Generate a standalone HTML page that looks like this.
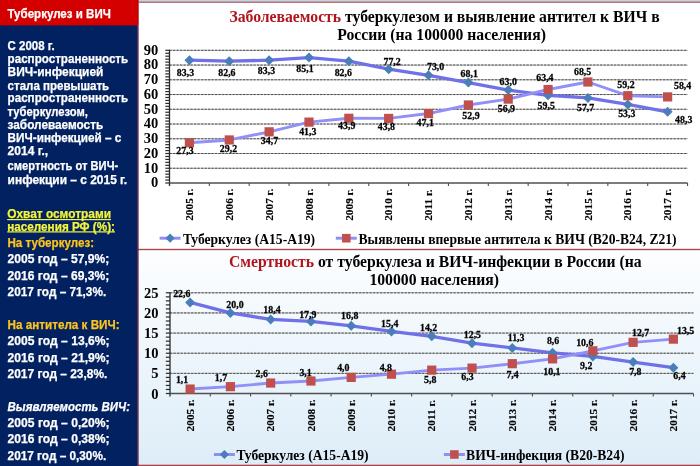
<!DOCTYPE html>
<html><head><meta charset="utf-8"><style>
html,body{margin:0;padding:0;background:#fff;}
body{width:700px;height:466px;overflow:hidden;position:relative;}
svg{position:absolute;left:0;top:0;}
.l{font-family:"Liberation Sans",sans-serif;font-weight:bold;fill:#fff;font-size:12px;stroke:#fff;stroke-width:0.25px;}
.m{font-size:13px;}
.s{font-family:"Liberation Serif",serif;font-weight:bold;fill:#000;}
.d{font-family:"Liberation Serif",serif;font-weight:bold;fill:#000;font-size:9.5px;stroke:#000;stroke-width:0.25px;}
</style></head><body>
<svg width="700" height="466" viewBox="0 0 700 466">
<defs>
<linearGradient id="bg2" x1="0" y1="0" x2="0" y2="1">
<stop offset="0" stop-color="#fdfeff"/>
<stop offset="1" stop-color="#ddedf8"/>
</linearGradient>
</defs>

<rect x="138" y="0" width="562" height="250" fill="#ffffff"/>
<rect x="138" y="250" width="562" height="216" fill="url(#bg2)"/>
<rect x="138.6" y="0" width="562" height="1.4" fill="#b4d8f2"/>
<rect x="138.6" y="1.4" width="562" height="1.5" fill="#b86464"/>
<rect x="138" y="248.8" width="562" height="1.4" fill="#b44646"/>
<rect x="138" y="464.7" width="562" height="1.3" fill="#b04048"/>
<rect x="0" y="0" width="137.6" height="466" fill="#022160"/>
<rect x="0" y="0" width="138.2" height="25.4" fill="#d40000"/>
<rect x="137.6" y="0" width="1.0" height="25.4" fill="#a00010"/>
<rect x="137.2" y="25.4" width="1.4" height="441" fill="#5e1c3c"/>
<text class="l" x="7.5" y="18.3" textLength="103.3" lengthAdjust="spacingAndGlyphs" style="font-size:12.6px">Туберкулез и ВИЧ</text>
<text class="l" x="7.6" y="49.7" textLength="47.0" lengthAdjust="spacingAndGlyphs">С 2008 г.</text>
<text class="l" x="7.6" y="63.0" textLength="120.6" lengthAdjust="spacingAndGlyphs">распространенность</text>
<text class="l" x="7.6" y="76.4" textLength="95.8" lengthAdjust="spacingAndGlyphs">ВИЧ-инфекцией</text>
<text class="l" x="7.6" y="89.6" textLength="101.6" lengthAdjust="spacingAndGlyphs">стала превышать</text>
<text class="l" x="7.6" y="102.4" textLength="120.6" lengthAdjust="spacingAndGlyphs">распространенность</text>
<text class="l" x="7.6" y="115.6" textLength="80.4" lengthAdjust="spacingAndGlyphs">туберкулезом,</text>
<text class="l" x="7.6" y="129.0" textLength="95.6" lengthAdjust="spacingAndGlyphs">заболеваемость</text>
<text class="l" x="7.6" y="142.2" textLength="113.8" lengthAdjust="spacingAndGlyphs">ВИЧ-инфекцией – с</text>
<text class="l" x="7.6" y="155.2" textLength="40.6" lengthAdjust="spacingAndGlyphs">2014 г.,</text>
<text class="l" x="7.6" y="170.4" textLength="110.6" lengthAdjust="spacingAndGlyphs">смертность от ВИЧ-</text>
<text class="l" x="7.6" y="184.0" textLength="119.6" lengthAdjust="spacingAndGlyphs">инфекции – с 2015 г.</text>
<text class="l m" x="7.2" y="218.3" textLength="103.8" lengthAdjust="spacingAndGlyphs" style="fill:#f4f43a;stroke:#f4f43a">Охват осмотрами</text>
<text class="l m" x="7.2" y="230.6" textLength="107.8" lengthAdjust="spacingAndGlyphs" style="fill:#f4f43a;stroke:#f4f43a">населения РФ (%):</text>
<rect x="7.2" y="219.0" width="103.8" height="1.2" fill="#f4f43a"/>
<rect x="7.2" y="231.3" width="107.8" height="1.2" fill="#f4f43a"/>
<text class="l m" x="7.4" y="246.9" textLength="86.8" lengthAdjust="spacingAndGlyphs" style="fill:#fcc41e;stroke:#fcc41e">На туберкулез:</text>
<text class="l m" x="7.6" y="263.0" textLength="101.6" lengthAdjust="spacingAndGlyphs">2005 год – 57,9%;</text>
<text class="l m" x="7.6" y="279.9" textLength="101.6" lengthAdjust="spacingAndGlyphs">2016 год – 69,3%;</text>
<text class="l m" x="7.6" y="296.1" textLength="98.6" lengthAdjust="spacingAndGlyphs">2017 год – 71,3%.</text>
<text class="l m" x="7.6" y="329.0" textLength="112.0" lengthAdjust="spacingAndGlyphs" style="fill:#fcc41e;stroke:#fcc41e">На антитела к ВИЧ:</text>
<text class="l m" x="7.6" y="345.0" textLength="102.0" lengthAdjust="spacingAndGlyphs">2005 год – 13,6%;</text>
<text class="l m" x="7.6" y="361.5" textLength="102.0" lengthAdjust="spacingAndGlyphs">2016 год – 21,9%;</text>
<text class="l m" x="7.6" y="377.6" textLength="99.8" lengthAdjust="spacingAndGlyphs">2017 год – 23,8%.</text>
<text class="l m" x="7.6" y="411.0" textLength="122.4" lengthAdjust="spacingAndGlyphs" style="font-style:italic">Выявляемость ВИЧ:</text>
<text class="l m" x="7.6" y="427.0" textLength="102.0" lengthAdjust="spacingAndGlyphs">2005 год – 0,20%;</text>
<text class="l m" x="7.6" y="443.4" textLength="102.0" lengthAdjust="spacingAndGlyphs">2016 год – 0,38%;</text>
<text class="l m" x="7.6" y="459.6" textLength="98.6" lengthAdjust="spacingAndGlyphs">2017 год – 0,30%.</text>
<line x1="169.5" y1="168.26" x2="687.6" y2="168.26" stroke="#b2b2b2" stroke-width="1"/>
<line x1="169.5" y1="168.26" x2="687.6" y2="168.26" stroke="#4e4e4e" stroke-width="1" stroke-dasharray="2.3 1.2"/>
<line x1="169.5" y1="153.51" x2="687.6" y2="153.51" stroke="#b2b2b2" stroke-width="1"/>
<line x1="169.5" y1="153.51" x2="687.6" y2="153.51" stroke="#4e4e4e" stroke-width="1" stroke-dasharray="2.3 1.2"/>
<line x1="169.5" y1="138.77" x2="687.6" y2="138.77" stroke="#b2b2b2" stroke-width="1"/>
<line x1="169.5" y1="138.77" x2="687.6" y2="138.77" stroke="#4e4e4e" stroke-width="1" stroke-dasharray="2.3 1.2"/>
<line x1="169.5" y1="124.02" x2="687.6" y2="124.02" stroke="#b2b2b2" stroke-width="1"/>
<line x1="169.5" y1="124.02" x2="687.6" y2="124.02" stroke="#4e4e4e" stroke-width="1" stroke-dasharray="2.3 1.2"/>
<line x1="169.5" y1="109.28" x2="687.6" y2="109.28" stroke="#b2b2b2" stroke-width="1"/>
<line x1="169.5" y1="109.28" x2="687.6" y2="109.28" stroke="#4e4e4e" stroke-width="1" stroke-dasharray="2.3 1.2"/>
<line x1="169.5" y1="94.54" x2="687.6" y2="94.54" stroke="#b2b2b2" stroke-width="1"/>
<line x1="169.5" y1="94.54" x2="687.6" y2="94.54" stroke="#4e4e4e" stroke-width="1" stroke-dasharray="2.3 1.2"/>
<line x1="169.5" y1="79.79" x2="687.6" y2="79.79" stroke="#b2b2b2" stroke-width="1"/>
<line x1="169.5" y1="79.79" x2="687.6" y2="79.79" stroke="#4e4e4e" stroke-width="1" stroke-dasharray="2.3 1.2"/>
<line x1="169.5" y1="65.05" x2="687.6" y2="65.05" stroke="#b2b2b2" stroke-width="1"/>
<line x1="169.5" y1="65.05" x2="687.6" y2="65.05" stroke="#4e4e4e" stroke-width="1" stroke-dasharray="2.3 1.2"/>
<line x1="169.5" y1="50.30" x2="687.6" y2="50.30" stroke="#b2b2b2" stroke-width="1"/>
<line x1="169.5" y1="50.30" x2="687.6" y2="50.30" stroke="#4e4e4e" stroke-width="1" stroke-dasharray="2.3 1.2"/>
<line x1="169.50" y1="49.80" x2="169.50" y2="186.00" stroke="#2a2a2a" stroke-width="1.3"/>
<line x1="165.30" y1="183.00" x2="169.50" y2="183.00" stroke="#2a2a2a" stroke-width="1.2"/>
<line x1="165.30" y1="180.05" x2="169.50" y2="180.05" stroke="#2a2a2a" stroke-width="1.2"/>
<line x1="165.30" y1="177.10" x2="169.50" y2="177.10" stroke="#2a2a2a" stroke-width="1.2"/>
<line x1="165.30" y1="174.15" x2="169.50" y2="174.15" stroke="#2a2a2a" stroke-width="1.2"/>
<line x1="165.30" y1="171.20" x2="169.50" y2="171.20" stroke="#2a2a2a" stroke-width="1.2"/>
<line x1="165.30" y1="168.26" x2="169.50" y2="168.26" stroke="#2a2a2a" stroke-width="1.2"/>
<line x1="165.30" y1="165.31" x2="169.50" y2="165.31" stroke="#2a2a2a" stroke-width="1.2"/>
<line x1="165.30" y1="162.36" x2="169.50" y2="162.36" stroke="#2a2a2a" stroke-width="1.2"/>
<line x1="165.30" y1="159.41" x2="169.50" y2="159.41" stroke="#2a2a2a" stroke-width="1.2"/>
<line x1="165.30" y1="156.46" x2="169.50" y2="156.46" stroke="#2a2a2a" stroke-width="1.2"/>
<line x1="165.30" y1="153.51" x2="169.50" y2="153.51" stroke="#2a2a2a" stroke-width="1.2"/>
<line x1="165.30" y1="150.56" x2="169.50" y2="150.56" stroke="#2a2a2a" stroke-width="1.2"/>
<line x1="165.30" y1="147.61" x2="169.50" y2="147.61" stroke="#2a2a2a" stroke-width="1.2"/>
<line x1="165.30" y1="144.67" x2="169.50" y2="144.67" stroke="#2a2a2a" stroke-width="1.2"/>
<line x1="165.30" y1="141.72" x2="169.50" y2="141.72" stroke="#2a2a2a" stroke-width="1.2"/>
<line x1="165.30" y1="138.77" x2="169.50" y2="138.77" stroke="#2a2a2a" stroke-width="1.2"/>
<line x1="165.30" y1="135.82" x2="169.50" y2="135.82" stroke="#2a2a2a" stroke-width="1.2"/>
<line x1="165.30" y1="132.87" x2="169.50" y2="132.87" stroke="#2a2a2a" stroke-width="1.2"/>
<line x1="165.30" y1="129.92" x2="169.50" y2="129.92" stroke="#2a2a2a" stroke-width="1.2"/>
<line x1="165.30" y1="126.97" x2="169.50" y2="126.97" stroke="#2a2a2a" stroke-width="1.2"/>
<line x1="165.30" y1="124.02" x2="169.50" y2="124.02" stroke="#2a2a2a" stroke-width="1.2"/>
<line x1="165.30" y1="121.08" x2="169.50" y2="121.08" stroke="#2a2a2a" stroke-width="1.2"/>
<line x1="165.30" y1="118.13" x2="169.50" y2="118.13" stroke="#2a2a2a" stroke-width="1.2"/>
<line x1="165.30" y1="115.18" x2="169.50" y2="115.18" stroke="#2a2a2a" stroke-width="1.2"/>
<line x1="165.30" y1="112.23" x2="169.50" y2="112.23" stroke="#2a2a2a" stroke-width="1.2"/>
<line x1="165.30" y1="109.28" x2="169.50" y2="109.28" stroke="#2a2a2a" stroke-width="1.2"/>
<line x1="165.30" y1="106.33" x2="169.50" y2="106.33" stroke="#2a2a2a" stroke-width="1.2"/>
<line x1="165.30" y1="103.38" x2="169.50" y2="103.38" stroke="#2a2a2a" stroke-width="1.2"/>
<line x1="165.30" y1="100.43" x2="169.50" y2="100.43" stroke="#2a2a2a" stroke-width="1.2"/>
<line x1="165.30" y1="97.48" x2="169.50" y2="97.48" stroke="#2a2a2a" stroke-width="1.2"/>
<line x1="165.30" y1="94.54" x2="169.50" y2="94.54" stroke="#2a2a2a" stroke-width="1.2"/>
<line x1="165.30" y1="91.59" x2="169.50" y2="91.59" stroke="#2a2a2a" stroke-width="1.2"/>
<line x1="165.30" y1="88.64" x2="169.50" y2="88.64" stroke="#2a2a2a" stroke-width="1.2"/>
<line x1="165.30" y1="85.69" x2="169.50" y2="85.69" stroke="#2a2a2a" stroke-width="1.2"/>
<line x1="165.30" y1="82.74" x2="169.50" y2="82.74" stroke="#2a2a2a" stroke-width="1.2"/>
<line x1="165.30" y1="79.79" x2="169.50" y2="79.79" stroke="#2a2a2a" stroke-width="1.2"/>
<line x1="165.30" y1="76.84" x2="169.50" y2="76.84" stroke="#2a2a2a" stroke-width="1.2"/>
<line x1="165.30" y1="73.89" x2="169.50" y2="73.89" stroke="#2a2a2a" stroke-width="1.2"/>
<line x1="165.30" y1="70.95" x2="169.50" y2="70.95" stroke="#2a2a2a" stroke-width="1.2"/>
<line x1="165.30" y1="68.00" x2="169.50" y2="68.00" stroke="#2a2a2a" stroke-width="1.2"/>
<line x1="165.30" y1="65.05" x2="169.50" y2="65.05" stroke="#2a2a2a" stroke-width="1.2"/>
<line x1="165.30" y1="62.10" x2="169.50" y2="62.10" stroke="#2a2a2a" stroke-width="1.2"/>
<line x1="165.30" y1="59.15" x2="169.50" y2="59.15" stroke="#2a2a2a" stroke-width="1.2"/>
<line x1="165.30" y1="56.20" x2="169.50" y2="56.20" stroke="#2a2a2a" stroke-width="1.2"/>
<line x1="165.30" y1="53.25" x2="169.50" y2="53.25" stroke="#2a2a2a" stroke-width="1.2"/>
<line x1="165.30" y1="50.30" x2="169.50" y2="50.30" stroke="#2a2a2a" stroke-width="1.2"/>
<line x1="169.50" y1="183.00" x2="687.55" y2="183.00" stroke="#505050" stroke-width="1.3"/>
<line x1="209.35" y1="183.00" x2="209.35" y2="186.00" stroke="#505050" stroke-width="1.1"/>
<line x1="249.20" y1="183.00" x2="249.20" y2="186.00" stroke="#505050" stroke-width="1.1"/>
<line x1="289.05" y1="183.00" x2="289.05" y2="186.00" stroke="#505050" stroke-width="1.1"/>
<line x1="328.90" y1="183.00" x2="328.90" y2="186.00" stroke="#505050" stroke-width="1.1"/>
<line x1="368.75" y1="183.00" x2="368.75" y2="186.00" stroke="#505050" stroke-width="1.1"/>
<line x1="408.60" y1="183.00" x2="408.60" y2="186.00" stroke="#505050" stroke-width="1.1"/>
<line x1="448.45" y1="183.00" x2="448.45" y2="186.00" stroke="#505050" stroke-width="1.1"/>
<line x1="488.30" y1="183.00" x2="488.30" y2="186.00" stroke="#505050" stroke-width="1.1"/>
<line x1="528.15" y1="183.00" x2="528.15" y2="186.00" stroke="#505050" stroke-width="1.1"/>
<line x1="568.00" y1="183.00" x2="568.00" y2="186.00" stroke="#505050" stroke-width="1.1"/>
<line x1="607.85" y1="183.00" x2="607.85" y2="186.00" stroke="#505050" stroke-width="1.1"/>
<line x1="647.70" y1="183.00" x2="647.70" y2="186.00" stroke="#505050" stroke-width="1.1"/>
<line x1="687.55" y1="183.00" x2="687.55" y2="186.00" stroke="#505050" stroke-width="1.1"/>
<polyline points="189.43,60.18 229.28,61.21 269.12,60.18 308.98,57.53 348.83,61.21 388.68,69.18 428.53,75.37 468.38,82.59 508.23,90.11 548.08,95.27 587.92,97.93 627.78,104.41 667.62,111.79" fill="none" stroke="#7070e8" stroke-width="3.3" stroke-linejoin="round"/>
<polyline points="189.43,142.75 229.28,139.95 269.12,131.84 308.98,122.11 348.83,118.27 388.68,118.42 428.53,113.56 468.38,105.00 508.23,99.11 548.08,89.52 587.92,82.00 627.78,95.72 667.62,96.90" fill="none" stroke="#9090f8" stroke-width="2.9" stroke-linejoin="round"/>
<path d="M189.43 55.18L194.43 60.18L189.43 65.18L184.43 60.18Z" fill="#4a7ebb"/>
<path d="M229.28 56.21L234.28 61.21L229.28 66.21L224.28 61.21Z" fill="#4a7ebb"/>
<path d="M269.12 55.18L274.12 60.18L269.12 65.18L264.12 60.18Z" fill="#4a7ebb"/>
<path d="M308.98 52.53L313.98 57.53L308.98 62.53L303.98 57.53Z" fill="#4a7ebb"/>
<path d="M348.83 56.21L353.83 61.21L348.83 66.21L343.83 61.21Z" fill="#4a7ebb"/>
<path d="M388.68 64.18L393.68 69.18L388.68 74.18L383.68 69.18Z" fill="#4a7ebb"/>
<path d="M428.53 70.37L433.53 75.37L428.53 80.37L423.53 75.37Z" fill="#4a7ebb"/>
<path d="M468.38 77.59L473.38 82.59L468.38 87.59L463.38 82.59Z" fill="#4a7ebb"/>
<path d="M508.23 85.11L513.23 90.11L508.23 95.11L503.23 90.11Z" fill="#4a7ebb"/>
<path d="M548.08 90.27L553.08 95.27L548.08 100.27L543.08 95.27Z" fill="#4a7ebb"/>
<path d="M587.92 92.93L592.92 97.93L587.92 102.93L582.92 97.93Z" fill="#4a7ebb"/>
<path d="M627.78 99.41L632.78 104.41L627.78 109.41L622.78 104.41Z" fill="#4a7ebb"/>
<path d="M667.62 106.79L672.62 111.79L667.62 116.79L662.62 111.79Z" fill="#4a7ebb"/>
<rect x="184.83" y="138.15" width="9.2" height="9.2" fill="#c0504d"/>
<rect x="224.68" y="135.35" width="9.2" height="9.2" fill="#c0504d"/>
<rect x="264.52" y="127.24" width="9.2" height="9.2" fill="#c0504d"/>
<rect x="304.38" y="117.51" width="9.2" height="9.2" fill="#c0504d"/>
<rect x="344.23" y="113.67" width="9.2" height="9.2" fill="#c0504d"/>
<rect x="384.07" y="113.82" width="9.2" height="9.2" fill="#c0504d"/>
<rect x="423.93" y="108.96" width="9.2" height="9.2" fill="#c0504d"/>
<rect x="463.77" y="100.40" width="9.2" height="9.2" fill="#c0504d"/>
<rect x="503.62" y="94.51" width="9.2" height="9.2" fill="#c0504d"/>
<rect x="543.48" y="84.92" width="9.2" height="9.2" fill="#c0504d"/>
<rect x="583.32" y="77.40" width="9.2" height="9.2" fill="#c0504d"/>
<rect x="623.18" y="91.12" width="9.2" height="9.2" fill="#c0504d"/>
<rect x="663.02" y="92.30" width="9.2" height="9.2" fill="#c0504d"/>
<text class="s" x="158.2" y="187.30" text-anchor="end" style="font-size:14.5px">0</text>
<text class="s" x="158.2" y="172.56" text-anchor="end" style="font-size:14.5px">10</text>
<text class="s" x="158.2" y="157.81" text-anchor="end" style="font-size:14.5px">20</text>
<text class="s" x="158.2" y="143.07" text-anchor="end" style="font-size:14.5px">30</text>
<text class="s" x="158.2" y="128.32" text-anchor="end" style="font-size:14.5px">40</text>
<text class="s" x="158.2" y="113.58" text-anchor="end" style="font-size:14.5px">50</text>
<text class="s" x="158.2" y="98.84" text-anchor="end" style="font-size:14.5px">60</text>
<text class="s" x="158.2" y="84.09" text-anchor="end" style="font-size:14.5px">70</text>
<text class="s" x="158.2" y="69.35" text-anchor="end" style="font-size:14.5px">80</text>
<text class="s" x="158.2" y="54.60" text-anchor="end" style="font-size:14.5px">90</text>
<text class="s" transform="translate(193.12 220.80) rotate(-90)" style="font-size:11.3px;stroke:#000;stroke-width:0.15px">2005 г.</text>
<text class="s" transform="translate(232.97 220.80) rotate(-90)" style="font-size:11.3px;stroke:#000;stroke-width:0.15px">2006 г.</text>
<text class="s" transform="translate(272.82 220.80) rotate(-90)" style="font-size:11.3px;stroke:#000;stroke-width:0.15px">2007 г.</text>
<text class="s" transform="translate(312.68 220.80) rotate(-90)" style="font-size:11.3px;stroke:#000;stroke-width:0.15px">2008 г.</text>
<text class="s" transform="translate(352.53 220.80) rotate(-90)" style="font-size:11.3px;stroke:#000;stroke-width:0.15px">2009 г.</text>
<text class="s" transform="translate(392.38 220.80) rotate(-90)" style="font-size:11.3px;stroke:#000;stroke-width:0.15px">2010 г.</text>
<text class="s" transform="translate(432.23 220.80) rotate(-90)" style="font-size:11.3px;stroke:#000;stroke-width:0.15px">2011 г.</text>
<text class="s" transform="translate(472.07 220.80) rotate(-90)" style="font-size:11.3px;stroke:#000;stroke-width:0.15px">2012 г.</text>
<text class="s" transform="translate(511.93 220.80) rotate(-90)" style="font-size:11.3px;stroke:#000;stroke-width:0.15px">2013 г.</text>
<text class="s" transform="translate(551.78 220.80) rotate(-90)" style="font-size:11.3px;stroke:#000;stroke-width:0.15px">2014 г.</text>
<text class="s" transform="translate(591.62 220.80) rotate(-90)" style="font-size:11.3px;stroke:#000;stroke-width:0.15px">2015 г.</text>
<text class="s" transform="translate(631.48 220.80) rotate(-90)" style="font-size:11.3px;stroke:#000;stroke-width:0.15px">2016 г.</text>
<text class="s" transform="translate(671.33 220.80) rotate(-90)" style="font-size:11.3px;stroke:#000;stroke-width:0.15px">2017 г.</text>
<text class="d" transform="translate(185.5 76.1) scale(1.04 1)" text-anchor="middle">83,3</text>
<text class="d" transform="translate(226.9 76.1) scale(1.04 1)" text-anchor="middle">82,6</text>
<text class="d" transform="translate(266.5 73.7) scale(1.04 1)" text-anchor="middle">83,3</text>
<text class="d" transform="translate(305.0 71.9) scale(1.04 1)" text-anchor="middle">85,1</text>
<text class="d" transform="translate(343.3 75.9) scale(1.04 1)" text-anchor="middle">82,6</text>
<text class="d" transform="translate(392.1 64.7) scale(1.04 1)" text-anchor="middle">77,2</text>
<text class="d" transform="translate(435.6 70.1) scale(1.04 1)" text-anchor="middle">73,0</text>
<text class="d" transform="translate(469.2 76.9) scale(1.04 1)" text-anchor="middle">68,1</text>
<text class="d" transform="translate(508.2 84.5) scale(1.04 1)" text-anchor="middle">63,0</text>
<text class="d" transform="translate(546.2 108.9) scale(1.04 1)" text-anchor="middle">59,5</text>
<text class="d" transform="translate(585.6 111.1) scale(1.04 1)" text-anchor="middle">57,7</text>
<text class="d" transform="translate(626.8 117.4) scale(1.04 1)" text-anchor="middle">53,3</text>
<text class="d" transform="translate(683.7 123.0) scale(1.04 1)" text-anchor="middle">48,3</text>
<text class="d" transform="translate(185.0 154.3) scale(1.04 1)" text-anchor="middle">27,3</text>
<text class="d" transform="translate(228.5 151.7) scale(1.04 1)" text-anchor="middle">29,2</text>
<text class="d" transform="translate(269.5 144.3) scale(1.04 1)" text-anchor="middle">34,7</text>
<text class="d" transform="translate(307.8 134.5) scale(1.04 1)" text-anchor="middle">41,3</text>
<text class="d" transform="translate(346.7 129.4) scale(1.04 1)" text-anchor="middle">43,9</text>
<text class="d" transform="translate(386.4 129.8) scale(1.04 1)" text-anchor="middle">43,8</text>
<text class="d" transform="translate(425.2 125.7) scale(1.04 1)" text-anchor="middle">47,1</text>
<text class="d" transform="translate(471.0 119.1) scale(1.04 1)" text-anchor="middle">52,9</text>
<text class="d" transform="translate(506.4 111.7) scale(1.04 1)" text-anchor="middle">56,9</text>
<text class="d" transform="translate(544.9 80.7) scale(1.04 1)" text-anchor="middle">63,4</text>
<text class="d" transform="translate(582.6 75.2) scale(1.04 1)" text-anchor="middle">68,5</text>
<text class="d" transform="translate(626.0 87.6) scale(1.04 1)" text-anchor="middle">59,2</text>
<text class="d" transform="translate(682.6 88.7) scale(1.04 1)" text-anchor="middle">58,4</text>
<line x1="170.0" y1="373.36" x2="693.5" y2="373.36" stroke="#b2b2b2" stroke-width="1"/>
<line x1="170.0" y1="373.36" x2="693.5" y2="373.36" stroke="#4e4e4e" stroke-width="1" stroke-dasharray="2.3 1.2"/>
<line x1="170.0" y1="353.22" x2="693.5" y2="353.22" stroke="#b2b2b2" stroke-width="1"/>
<line x1="170.0" y1="353.22" x2="693.5" y2="353.22" stroke="#4e4e4e" stroke-width="1" stroke-dasharray="2.3 1.2"/>
<line x1="170.0" y1="333.08" x2="693.5" y2="333.08" stroke="#b2b2b2" stroke-width="1"/>
<line x1="170.0" y1="333.08" x2="693.5" y2="333.08" stroke="#4e4e4e" stroke-width="1" stroke-dasharray="2.3 1.2"/>
<line x1="170.0" y1="312.94" x2="693.5" y2="312.94" stroke="#b2b2b2" stroke-width="1"/>
<line x1="170.0" y1="312.94" x2="693.5" y2="312.94" stroke="#4e4e4e" stroke-width="1" stroke-dasharray="2.3 1.2"/>
<line x1="170.0" y1="292.80" x2="693.5" y2="292.80" stroke="#b2b2b2" stroke-width="1"/>
<line x1="170.0" y1="292.80" x2="693.5" y2="292.80" stroke="#4e4e4e" stroke-width="1" stroke-dasharray="2.3 1.2"/>
<line x1="170.00" y1="292.30" x2="170.00" y2="396.50" stroke="#2a2a2a" stroke-width="1.3"/>
<line x1="165.80" y1="393.50" x2="170.00" y2="393.50" stroke="#2a2a2a" stroke-width="1.2"/>
<line x1="165.80" y1="389.47" x2="170.00" y2="389.47" stroke="#2a2a2a" stroke-width="1.2"/>
<line x1="165.80" y1="385.44" x2="170.00" y2="385.44" stroke="#2a2a2a" stroke-width="1.2"/>
<line x1="165.80" y1="381.42" x2="170.00" y2="381.42" stroke="#2a2a2a" stroke-width="1.2"/>
<line x1="165.80" y1="377.39" x2="170.00" y2="377.39" stroke="#2a2a2a" stroke-width="1.2"/>
<line x1="165.80" y1="373.36" x2="170.00" y2="373.36" stroke="#2a2a2a" stroke-width="1.2"/>
<line x1="165.80" y1="369.33" x2="170.00" y2="369.33" stroke="#2a2a2a" stroke-width="1.2"/>
<line x1="165.80" y1="365.30" x2="170.00" y2="365.30" stroke="#2a2a2a" stroke-width="1.2"/>
<line x1="165.80" y1="361.28" x2="170.00" y2="361.28" stroke="#2a2a2a" stroke-width="1.2"/>
<line x1="165.80" y1="357.25" x2="170.00" y2="357.25" stroke="#2a2a2a" stroke-width="1.2"/>
<line x1="165.80" y1="353.22" x2="170.00" y2="353.22" stroke="#2a2a2a" stroke-width="1.2"/>
<line x1="165.80" y1="349.19" x2="170.00" y2="349.19" stroke="#2a2a2a" stroke-width="1.2"/>
<line x1="165.80" y1="345.16" x2="170.00" y2="345.16" stroke="#2a2a2a" stroke-width="1.2"/>
<line x1="165.80" y1="341.14" x2="170.00" y2="341.14" stroke="#2a2a2a" stroke-width="1.2"/>
<line x1="165.80" y1="337.11" x2="170.00" y2="337.11" stroke="#2a2a2a" stroke-width="1.2"/>
<line x1="165.80" y1="333.08" x2="170.00" y2="333.08" stroke="#2a2a2a" stroke-width="1.2"/>
<line x1="165.80" y1="329.05" x2="170.00" y2="329.05" stroke="#2a2a2a" stroke-width="1.2"/>
<line x1="165.80" y1="325.02" x2="170.00" y2="325.02" stroke="#2a2a2a" stroke-width="1.2"/>
<line x1="165.80" y1="321.00" x2="170.00" y2="321.00" stroke="#2a2a2a" stroke-width="1.2"/>
<line x1="165.80" y1="316.97" x2="170.00" y2="316.97" stroke="#2a2a2a" stroke-width="1.2"/>
<line x1="165.80" y1="312.94" x2="170.00" y2="312.94" stroke="#2a2a2a" stroke-width="1.2"/>
<line x1="165.80" y1="308.91" x2="170.00" y2="308.91" stroke="#2a2a2a" stroke-width="1.2"/>
<line x1="165.80" y1="304.88" x2="170.00" y2="304.88" stroke="#2a2a2a" stroke-width="1.2"/>
<line x1="165.80" y1="300.86" x2="170.00" y2="300.86" stroke="#2a2a2a" stroke-width="1.2"/>
<line x1="165.80" y1="296.83" x2="170.00" y2="296.83" stroke="#2a2a2a" stroke-width="1.2"/>
<line x1="165.80" y1="292.80" x2="170.00" y2="292.80" stroke="#2a2a2a" stroke-width="1.2"/>
<line x1="170.00" y1="393.50" x2="693.51" y2="393.50" stroke="#505050" stroke-width="1.3"/>
<line x1="210.27" y1="393.50" x2="210.27" y2="396.50" stroke="#505050" stroke-width="1.1"/>
<line x1="250.54" y1="393.50" x2="250.54" y2="396.50" stroke="#505050" stroke-width="1.1"/>
<line x1="290.81" y1="393.50" x2="290.81" y2="396.50" stroke="#505050" stroke-width="1.1"/>
<line x1="331.08" y1="393.50" x2="331.08" y2="396.50" stroke="#505050" stroke-width="1.1"/>
<line x1="371.35" y1="393.50" x2="371.35" y2="396.50" stroke="#505050" stroke-width="1.1"/>
<line x1="411.62" y1="393.50" x2="411.62" y2="396.50" stroke="#505050" stroke-width="1.1"/>
<line x1="451.89" y1="393.50" x2="451.89" y2="396.50" stroke="#505050" stroke-width="1.1"/>
<line x1="492.16" y1="393.50" x2="492.16" y2="396.50" stroke="#505050" stroke-width="1.1"/>
<line x1="532.43" y1="393.50" x2="532.43" y2="396.50" stroke="#505050" stroke-width="1.1"/>
<line x1="572.70" y1="393.50" x2="572.70" y2="396.50" stroke="#505050" stroke-width="1.1"/>
<line x1="612.97" y1="393.50" x2="612.97" y2="396.50" stroke="#505050" stroke-width="1.1"/>
<line x1="653.24" y1="393.50" x2="653.24" y2="396.50" stroke="#505050" stroke-width="1.1"/>
<line x1="693.51" y1="393.50" x2="693.51" y2="396.50" stroke="#505050" stroke-width="1.1"/>
<polyline points="190.13,302.47 230.41,312.94 270.68,319.38 310.95,321.40 351.22,325.83 391.49,331.47 431.75,336.30 472.03,343.15 512.30,347.98 552.57,352.82 592.84,356.44 633.11,362.08 673.38,367.72" fill="none" stroke="#7070e8" stroke-width="3.3" stroke-linejoin="round"/>
<polyline points="190.13,389.07 230.41,386.65 270.68,383.03 310.95,381.01 351.22,377.39 391.49,374.17 431.75,370.14 472.03,368.12 512.30,363.69 552.57,358.86 592.84,350.80 633.11,342.34 673.38,339.12" fill="none" stroke="#9090f8" stroke-width="2.9" stroke-linejoin="round"/>
<path d="M190.13 297.47L195.13 302.47L190.13 307.47L185.13 302.47Z" fill="#4a7ebb"/>
<path d="M230.41 307.94L235.41 312.94L230.41 317.94L225.41 312.94Z" fill="#4a7ebb"/>
<path d="M270.68 314.38L275.68 319.38L270.68 324.38L265.68 319.38Z" fill="#4a7ebb"/>
<path d="M310.95 316.40L315.95 321.40L310.95 326.40L305.95 321.40Z" fill="#4a7ebb"/>
<path d="M351.22 320.83L356.22 325.83L351.22 330.83L346.22 325.83Z" fill="#4a7ebb"/>
<path d="M391.49 326.47L396.49 331.47L391.49 336.47L386.49 331.47Z" fill="#4a7ebb"/>
<path d="M431.75 331.30L436.75 336.30L431.75 341.30L426.75 336.30Z" fill="#4a7ebb"/>
<path d="M472.03 338.15L477.03 343.15L472.03 348.15L467.03 343.15Z" fill="#4a7ebb"/>
<path d="M512.30 342.98L517.30 347.98L512.30 352.98L507.30 347.98Z" fill="#4a7ebb"/>
<path d="M552.57 347.82L557.57 352.82L552.57 357.82L547.57 352.82Z" fill="#4a7ebb"/>
<path d="M592.84 351.44L597.84 356.44L592.84 361.44L587.84 356.44Z" fill="#4a7ebb"/>
<path d="M633.11 357.08L638.11 362.08L633.11 367.08L628.11 362.08Z" fill="#4a7ebb"/>
<path d="M673.38 362.72L678.38 367.72L673.38 372.72L668.38 367.72Z" fill="#4a7ebb"/>
<rect x="185.53" y="384.47" width="9.2" height="9.2" fill="#c0504d"/>
<rect x="225.81" y="382.05" width="9.2" height="9.2" fill="#c0504d"/>
<rect x="266.07" y="378.43" width="9.2" height="9.2" fill="#c0504d"/>
<rect x="306.35" y="376.41" width="9.2" height="9.2" fill="#c0504d"/>
<rect x="346.62" y="372.79" width="9.2" height="9.2" fill="#c0504d"/>
<rect x="386.88" y="369.57" width="9.2" height="9.2" fill="#c0504d"/>
<rect x="427.15" y="365.54" width="9.2" height="9.2" fill="#c0504d"/>
<rect x="467.43" y="363.52" width="9.2" height="9.2" fill="#c0504d"/>
<rect x="507.70" y="359.09" width="9.2" height="9.2" fill="#c0504d"/>
<rect x="547.97" y="354.26" width="9.2" height="9.2" fill="#c0504d"/>
<rect x="588.24" y="346.20" width="9.2" height="9.2" fill="#c0504d"/>
<rect x="628.50" y="337.74" width="9.2" height="9.2" fill="#c0504d"/>
<rect x="668.77" y="334.52" width="9.2" height="9.2" fill="#c0504d"/>
<text class="s" x="158.4" y="398.50" text-anchor="end" style="font-size:14.5px">0</text>
<text class="s" x="158.4" y="378.36" text-anchor="end" style="font-size:14.5px">5</text>
<text class="s" x="158.4" y="358.22" text-anchor="end" style="font-size:14.5px">10</text>
<text class="s" x="158.4" y="338.08" text-anchor="end" style="font-size:14.5px">15</text>
<text class="s" x="158.4" y="317.94" text-anchor="end" style="font-size:14.5px">20</text>
<text class="s" x="158.4" y="297.80" text-anchor="end" style="font-size:14.5px">25</text>
<text class="s" transform="translate(193.83 431.40) rotate(-90)" style="font-size:11.3px;stroke:#000;stroke-width:0.15px">2005 г.</text>
<text class="s" transform="translate(234.10 431.40) rotate(-90)" style="font-size:11.3px;stroke:#000;stroke-width:0.15px">2006 г.</text>
<text class="s" transform="translate(274.38 431.40) rotate(-90)" style="font-size:11.3px;stroke:#000;stroke-width:0.15px">2007 г.</text>
<text class="s" transform="translate(314.65 431.40) rotate(-90)" style="font-size:11.3px;stroke:#000;stroke-width:0.15px">2008 г.</text>
<text class="s" transform="translate(354.92 431.40) rotate(-90)" style="font-size:11.3px;stroke:#000;stroke-width:0.15px">2009 г.</text>
<text class="s" transform="translate(395.19 431.40) rotate(-90)" style="font-size:11.3px;stroke:#000;stroke-width:0.15px">2010 г.</text>
<text class="s" transform="translate(435.45 431.40) rotate(-90)" style="font-size:11.3px;stroke:#000;stroke-width:0.15px">2011 г.</text>
<text class="s" transform="translate(475.73 431.40) rotate(-90)" style="font-size:11.3px;stroke:#000;stroke-width:0.15px">2012 г.</text>
<text class="s" transform="translate(516.00 431.40) rotate(-90)" style="font-size:11.3px;stroke:#000;stroke-width:0.15px">2013 г.</text>
<text class="s" transform="translate(556.27 431.40) rotate(-90)" style="font-size:11.3px;stroke:#000;stroke-width:0.15px">2014 г.</text>
<text class="s" transform="translate(596.54 431.40) rotate(-90)" style="font-size:11.3px;stroke:#000;stroke-width:0.15px">2015 г.</text>
<text class="s" transform="translate(636.81 431.40) rotate(-90)" style="font-size:11.3px;stroke:#000;stroke-width:0.15px">2016 г.</text>
<text class="s" transform="translate(677.08 431.40) rotate(-90)" style="font-size:11.3px;stroke:#000;stroke-width:0.15px">2017 г.</text>
<text class="d" transform="translate(181.8 297.3) scale(1.04 1)" text-anchor="middle">22,6</text>
<text class="d" transform="translate(235.0 307.6) scale(1.04 1)" text-anchor="middle">20,0</text>
<text class="d" transform="translate(272.0 313.3) scale(1.04 1)" text-anchor="middle">18,4</text>
<text class="d" transform="translate(307.8 317.5) scale(1.04 1)" text-anchor="middle">17,9</text>
<text class="d" transform="translate(349.7 319.4) scale(1.04 1)" text-anchor="middle">16,8</text>
<text class="d" transform="translate(389.7 326.6) scale(1.04 1)" text-anchor="middle">15,4</text>
<text class="d" transform="translate(428.6 331.3) scale(1.04 1)" text-anchor="middle">14,2</text>
<text class="d" transform="translate(472.4 337.6) scale(1.04 1)" text-anchor="middle">12,5</text>
<text class="d" transform="translate(516.1 341.1) scale(1.04 1)" text-anchor="middle">11,3</text>
<text class="d" transform="translate(551.9 374.7) scale(1.04 1)" text-anchor="middle">10,1</text>
<text class="d" transform="translate(586.2 368.7) scale(1.04 1)" text-anchor="middle">9,2</text>
<text class="d" transform="translate(635.3 374.8) scale(1.04 1)" text-anchor="middle">7,8</text>
<text class="d" transform="translate(679.5 379.4) scale(1.04 1)" text-anchor="middle">6,4</text>
<text class="d" transform="translate(182.1 382.6) scale(1.04 1)" text-anchor="middle">1,1</text>
<text class="d" transform="translate(221.0 380.9) scale(1.04 1)" text-anchor="middle">1,7</text>
<text class="d" transform="translate(261.7 376.6) scale(1.04 1)" text-anchor="middle">2,6</text>
<text class="d" transform="translate(305.6 375.7) scale(1.04 1)" text-anchor="middle">3,1</text>
<text class="d" transform="translate(343.3 371.4) scale(1.04 1)" text-anchor="middle">4,0</text>
<text class="d" transform="translate(385.8 370.6) scale(1.04 1)" text-anchor="middle">4,8</text>
<text class="d" transform="translate(430.2 382.9) scale(1.04 1)" text-anchor="middle">5,8</text>
<text class="d" transform="translate(467.4 379.8) scale(1.04 1)" text-anchor="middle">6,3</text>
<text class="d" transform="translate(512.6 377.7) scale(1.04 1)" text-anchor="middle">7,4</text>
<text class="d" transform="translate(553.1 343.5) scale(1.04 1)" text-anchor="middle">8,6</text>
<text class="d" transform="translate(584.8 345.6) scale(1.04 1)" text-anchor="middle">10,6</text>
<text class="d" transform="translate(640.6 336.4) scale(1.04 1)" text-anchor="middle">12,7</text>
<text class="d" transform="translate(685.6 333.6) scale(1.04 1)" text-anchor="middle">13,5</text>
<text class="s" x="229.4" y="21.7" style="font-size:15.7px"><tspan fill="#b0141c">Заболеваемость</tspan> туберкулезом и выявление антител к ВИЧ в</text>
<text class="s" x="441.6" y="39.8" text-anchor="middle" style="font-size:15.7px">России (на 100000 населения)</text>
<text class="s" x="229" y="267.4" style="font-size:15.7px"><tspan fill="#b0141c">Смертность</tspan> от туберкулеза и ВИЧ-инфекции в России (на</text>
<text class="s" x="434.2" y="285.3" text-anchor="middle" style="font-size:15.7px">100000 населения)</text>
<line x1="159.6" y1="238.2" x2="180.6" y2="238.2" stroke="#9090f2" stroke-width="3"/>
<path d="M170.10 233.60L174.70 238.20L170.10 242.80L165.50 238.20Z" fill="#4a7ebb"/>
<text class="s" x="182.9" y="243.5" style="font-size:13.6px">Туберкулез (A15-A19)</text>
<line x1="335.8" y1="238.2" x2="356.8" y2="238.2" stroke="#9090f2" stroke-width="3"/>
<rect x="342.00" y="233.90" width="8.6" height="8.6" fill="#c0504d"/>
<text class="s" x="358.5" y="243.5" style="font-size:13.6px">Выявлены впервые антитела к ВИЧ (B20-B24, Z21)</text>
<line x1="213.9" y1="454.5" x2="234.9" y2="454.5" stroke="#9090f2" stroke-width="3"/>
<path d="M224.40 449.90L229.00 454.50L224.40 459.10L219.80 454.50Z" fill="#4a7ebb"/>
<text class="s" x="236.4" y="459.9" style="font-size:13.6px">Туберкулез (A15-A19)</text>
<line x1="443.9" y1="454.5" x2="464.9" y2="454.5" stroke="#9090f2" stroke-width="3"/>
<rect x="450.10" y="450.20" width="8.6" height="8.6" fill="#c0504d"/>
<text class="s" x="466.1" y="459.9" style="font-size:13.6px">ВИЧ-инфекция (B20-B24)</text>
</svg></body></html>
